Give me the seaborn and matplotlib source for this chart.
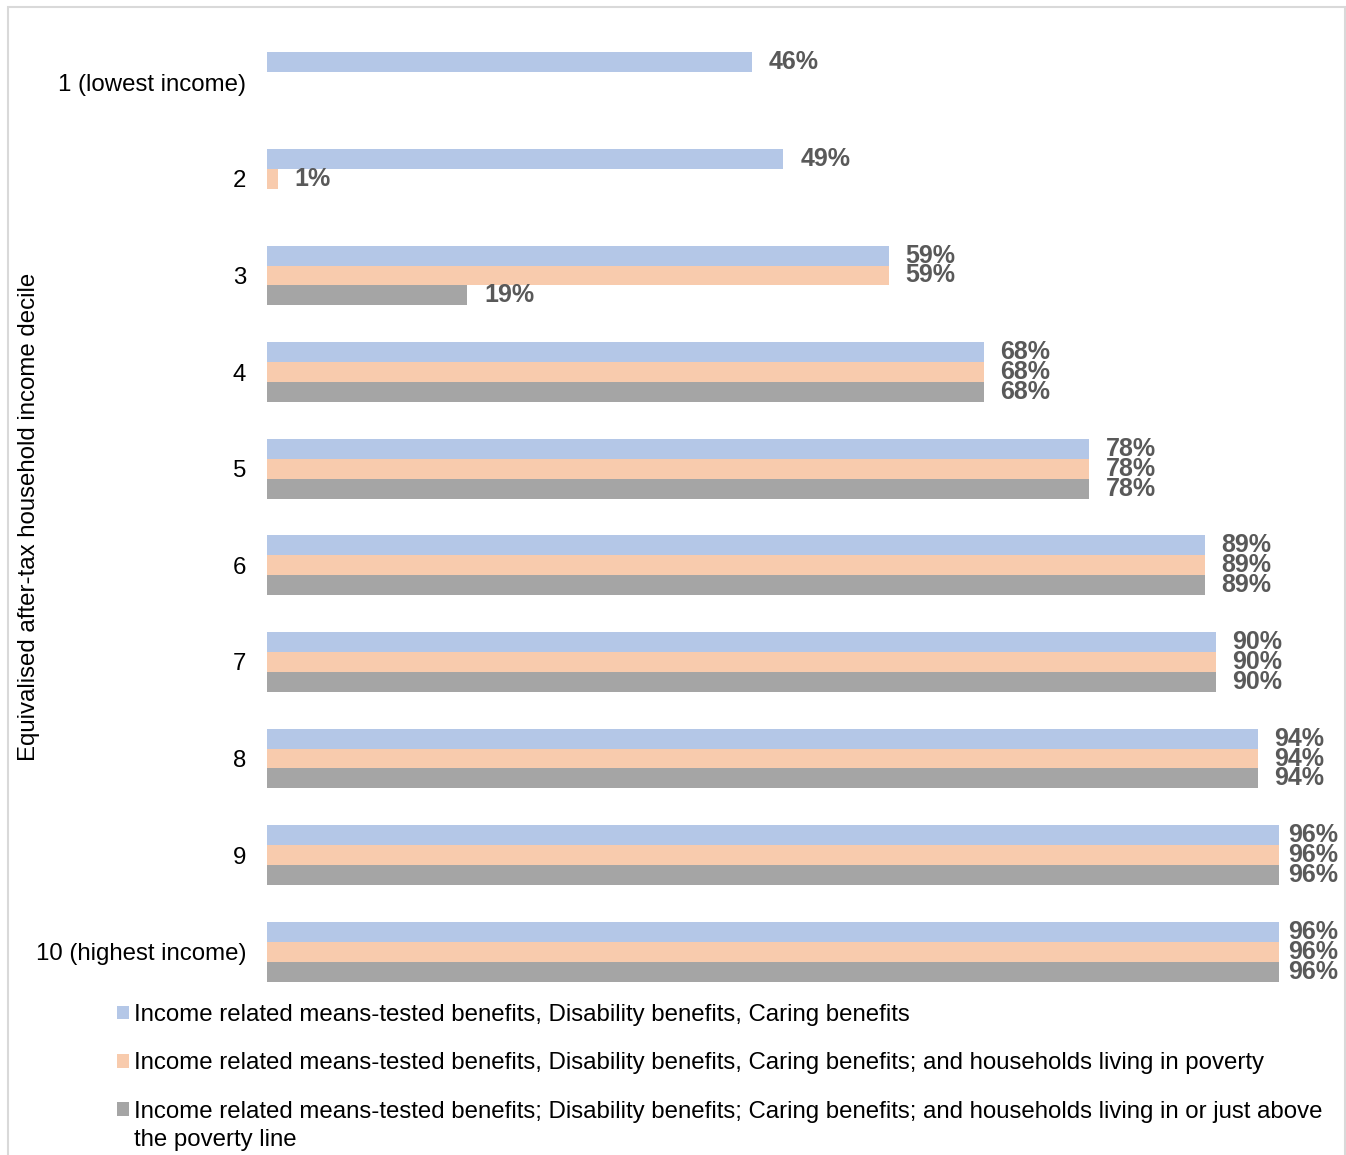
import matplotlib.pyplot as plt
import matplotlib.patches as mpatches
import pandas as pd
import seaborn as sns

deciles = ["1 (lowest income)", "2", "3", "4", "5", "6", "7", "8", "9", "10 (highest income)"]
series_names = [
    "Income related means-tested benefits, Disability benefits, Caring benefits",
    "Income related means-tested benefits, Disability benefits, Caring benefits; and households living in poverty",
    "Income related means-tested benefits; Disability benefits; Caring benefits; and households living in or just above the poverty line",
]
# third legend entry wraps onto a second line in the original
legend_labels = [
    series_names[0],
    series_names[1],
    "Income related means-tested benefits; Disability benefits; Caring benefits; and households living in or just above",
]
legend_wrap = "the poverty line"
benefits = [46, 49, 59, 68, 78, 89, 90, 94, 96, 96]
benefits_poverty = [0, 1, 59, 68, 78, 89, 90, 94, 96, 96]
benefits_near_poverty = [0, 0, 19, 68, 78, 89, 90, 94, 96, 96]
colors = ["#B4C7E7", "#F8CBAD", "#A5A5A5"]

rows = []
for name, vals in zip(series_names, [benefits, benefits_poverty, benefits_near_poverty]):
    for d, v in zip(deciles, vals):
        rows.append({"decile": d, "value": v, "series": name})
df = pd.DataFrame(rows)

sns.set_theme(style="white")
plt.rcParams["font.family"] = ["Liberation Sans", "DejaVu Sans"]

W, H = 1346, 1155
fig = plt.figure(figsize=(W / 100, H / 100), dpi=100)
ax = fig.add_axes([267 / W, 1 - 1000 / H, 1054 / W, 966 / H])

sns.barplot(data=df, y="decile", x="value", hue="series", order=deciles,
            hue_order=series_names, palette=colors, orient="h", width=0.62,
            gap=0, saturation=1, linewidth=0, ax=ax)

lab_kw = dict(fontsize=18, fontweight="bold", color="#595959")
for cont in ax.containers:
    vals = cont.datavalues
    ax.bar_label(cont, labels=[f"{v:.0f}%" if 0 < v < 96 else "" for v in vals],
                 padding=12, **lab_kw)
    # labels near the right edge sit closer to the bar, as in the original
    ax.bar_label(cont, labels=[f"{v:.0f}%" if v >= 96 else "" for v in vals],
                 padding=7, **lab_kw)

ax.set_xlim(0, 100)
ax.set_xticks([])
ax.set_xlabel("")
ax.set_ylabel("Equivalised after-tax household income decile", fontsize=17.3, color="black")
ax.yaxis.set_label_coords((40 - 267) / 1054, 0.5)
ax.tick_params(axis="y", length=0, pad=15, labelsize=17.3, labelcolor="black")
for s in ax.spines.values():
    s.set_visible(False)

handles, _ = ax.get_legend_handles_labels()
ax.get_legend().remove()
leg = fig.legend(handles, legend_labels, loc="upper left",
                 bbox_to_anchor=(117 / W, 1 - 1004 / H), frameon=False,
                 fontsize=17.3, labelcolor="black", handlelength=0.5, handleheight=0.5,
                 handletextpad=0.2, labelspacing=1.1, borderpad=0, borderaxespad=0)

fig.canvas.draw()
bb = leg.get_texts()[2].get_window_extent()
fig.text(bb.x0 / W, (bb.y0 - 28) / H, legend_wrap, fontsize=17.3, color="black",
         ha="left", va="bottom")

fig.patches.append(mpatches.Rectangle((8 / W, -0.01), 1337 / W, 1 - 7 / H + 0.01,
                                      transform=fig.transFigure, fill=False,
                                      edgecolor="#D9D9D9", linewidth=1.5))

fig.savefig("out.png", dpi=100)
plt.close(fig)
